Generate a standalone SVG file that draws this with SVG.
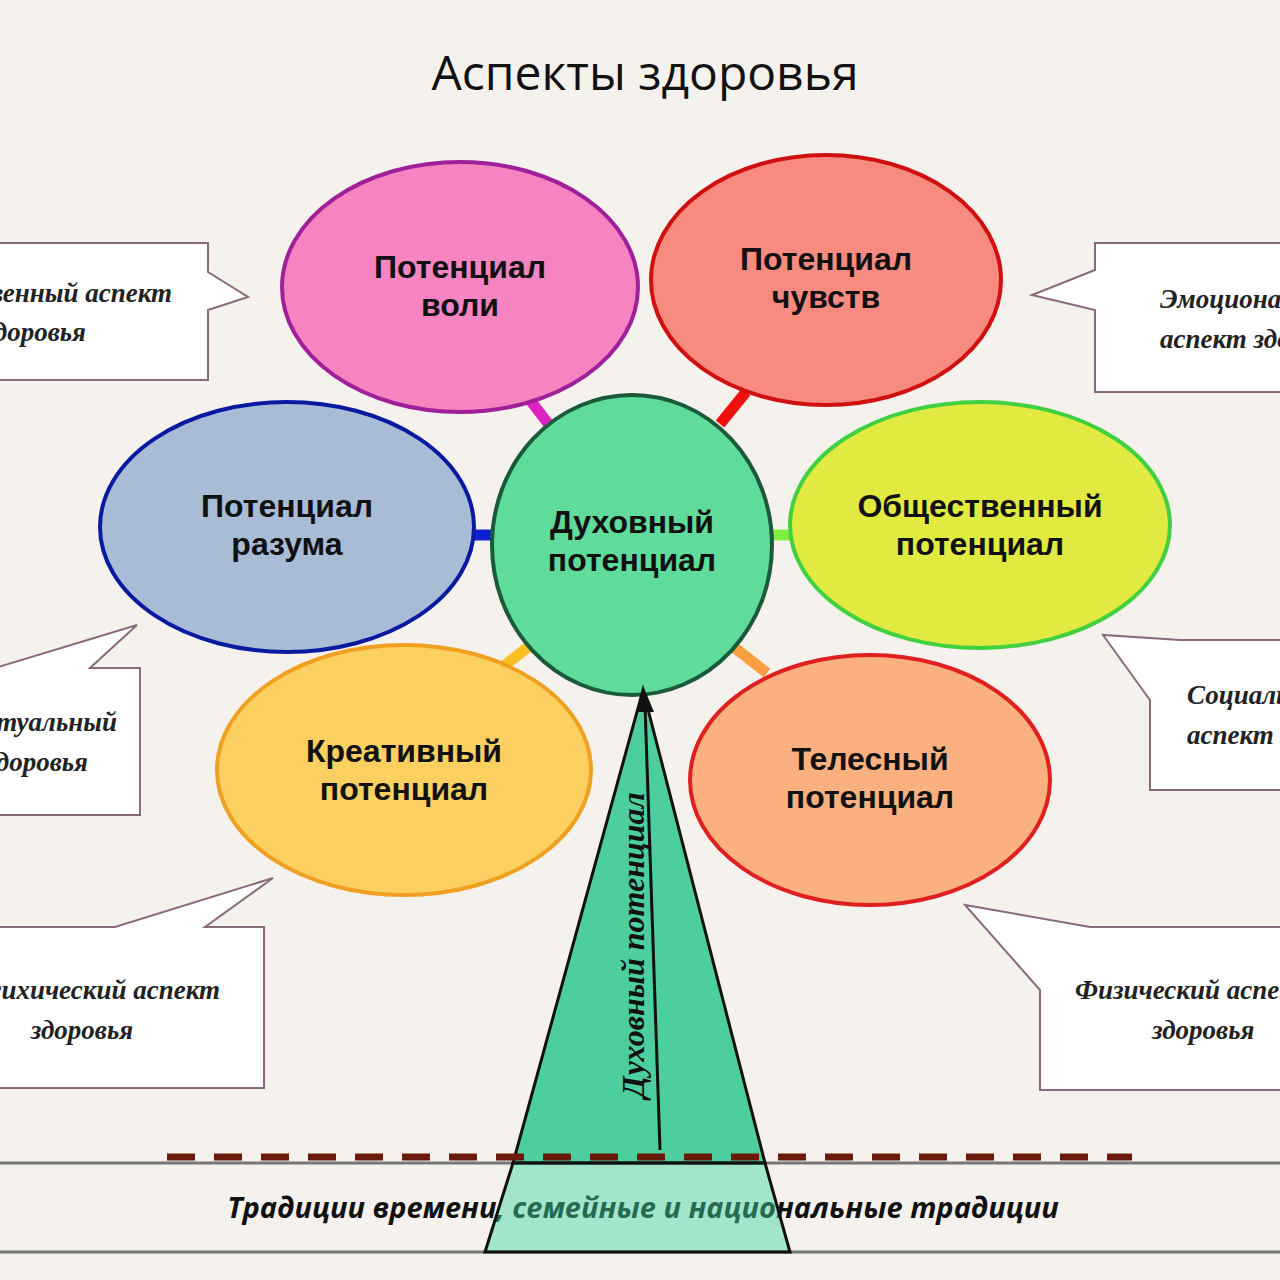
<svg xmlns="http://www.w3.org/2000/svg" width="1280" height="1280" viewBox="0 0 1280 1280">
<style>
.n{font-family:"Liberation Sans",Arial,sans-serif;font-weight:bold;font-size:32px;fill:#111;text-anchor:middle}
.c{font-family:"Liberation Serif","Times New Roman",serif;font-style:italic;font-weight:bold;font-size:27px;fill:#222}
.b{fill:#fff;stroke:#8a6a7a;stroke-width:2}
.k{stroke-width:11;fill:none}
</style>
<rect width="1280" height="1280" fill="#f5f1ed"/>
<text x="645" y="90" text-anchor="middle" font-family="'Open Sans',sans-serif" font-size="48" fill="#111">Аспекты здоровья</text>
<g id="callouts">
<g id="c1"><path class="b" d="M-5 243H208V272L248 297L208 310V380H-5Z"/><text class="c" x="172" y="302" text-anchor="end">Нравственный аспект</text><text class="c" x="86" y="341" text-anchor="end">здоровья</text></g>
<g id="c2"><path class="b" d="M-5 668L137 625L90 668H140V815H-5Z"/><text class="c" x="117" y="731" text-anchor="end">Интеллектуальный</text><text class="c" x="88" y="771" text-anchor="end">здоровья</text></g>
<g id="c3"><path class="b" d="M-5 927H115L273 878L205 927H264V1088H-5Z"/><text class="c" x="220" y="999" text-anchor="end">Психический  аспект</text><text class="c" x="82" y="1039" text-anchor="middle">здоровья</text></g>
<g id="c4"><path class="b" d="M1285 243H1095V270L1032 295L1095 310V392H1285Z"/><text class="c" x="1160" y="308">Эмоциональный</text><text class="c" x="1160" y="348">аспект здоровья</text></g>
<g id="c5"><path class="b" d="M1285 640H1180L1103 635L1150 700V790H1285Z"/><text class="c" x="1187" y="704">Социальный</text><text class="c" x="1187" y="744">аспект здоровья</text></g>
<g id="c6"><path class="b" d="M1285 927H1090L965 905L1040 990V1090H1285Z"/><text class="c" x="1075" y="999">Физический аспект</text><text class="c" x="1152" y="1039">здоровья</text></g>
</g>
<g id="connectors">
<line class="k" x1="530" y1="400" x2="550" y2="426" stroke="#e020c0"/>
<line class="k" x1="720" y1="424" x2="746" y2="392" stroke="#f01010"/>
<line class="k" x1="472" y1="535" x2="494" y2="535" stroke="#1020d0"/>
<line class="k" x1="770" y1="535" x2="792" y2="535" stroke="#80f040"/>
<line class="k" x1="504" y1="666" x2="532" y2="644" stroke="#f8c020"/>
<line class="k" x1="735" y1="648" x2="767" y2="673" stroke="#f8a040"/>
</g>
<g id="n-voli"><ellipse cx="460" cy="287" rx="178" ry="125" fill="#f584c0" stroke="#a0209a" stroke-width="4"/><text class="n" x="460" y="278">Потенциал</text><text class="n" x="460" y="316">воли</text></g>
<g id="n-chuvstv"><ellipse cx="826" cy="280" rx="175" ry="125" fill="#f88a80" stroke="#d01010" stroke-width="4"/><text class="n" x="826" y="270">Потенциал</text><text class="n" x="826" y="308">чувств</text></g>
<g id="n-razuma"><ellipse cx="287" cy="527" rx="187" ry="125" fill="#a8bcd6" stroke="#0a1aa0" stroke-width="4"/><text class="n" x="287" y="517">Потенциал</text><text class="n" x="287" y="555">разума</text></g>
<g id="n-obsh"><ellipse cx="980" cy="525" rx="190" ry="123" fill="#e0ea40" stroke="#40d040" stroke-width="4"/><text class="n" x="980" y="517">Общественный</text><text class="n" x="980" y="555">потенциал</text></g>
<g id="n-kreat"><ellipse cx="404" cy="770" rx="187" ry="125" fill="#fcd060" stroke="#f0a020" stroke-width="4"/><text class="n" x="404" y="762">Креативный</text><text class="n" x="404" y="800">потенциал</text></g>
<g id="n-teles"><ellipse cx="870" cy="780" rx="180" ry="125" fill="#fbb080" stroke="#e02020" stroke-width="4"/><text class="n" x="870" y="770">Телесный</text><text class="n" x="870" y="808">потенциал</text></g>
<g id="n-center"><ellipse cx="632" cy="545" rx="140" ry="150" fill="#5fdc9c" stroke="#1a5a3a" stroke-width="4"/><text class="n" x="632" y="533">Духовный</text><text class="n" x="632" y="571">потенциал</text></g>
<g id="ground">
<line x1="0" y1="1163" x2="1280" y2="1163" stroke="#777" stroke-width="3"/>
<line x1="0" y1="1252" x2="1280" y2="1252" stroke="#777" stroke-width="3"/>
<text x="643" y="1218" text-anchor="middle" font-family="'Open Sans',sans-serif" font-style="italic" font-weight="bold" font-size="29" fill="#111">Традиции времени, семейные и национальные традиции</text>
</g>
<g id="trunk">
<path d="M643 690L765 1163H513Z" fill="#2fc890" fill-opacity="0.85" stroke="#111" stroke-width="3"/>
<path d="M513 1163H765L790 1252H485Z" fill="#3fd8a0" fill-opacity="0.45" stroke="#111" stroke-width="3"/>
<line x1="660" y1="1150" x2="645" y2="705" stroke="#111" stroke-width="3"/>
<path d="M644 688L636 712L654 712Z" fill="#111"/>
<text transform="translate(644,945) rotate(-90)" text-anchor="middle" font-family="'Liberation Serif',serif" font-style="italic" font-weight="bold" font-size="32" fill="#111">Духовный  потенциал</text>
</g>
<line x1="167" y1="1157" x2="1132" y2="1157" stroke="#6a1a0a" stroke-width="7" stroke-dasharray="28 19"/>
</svg>
